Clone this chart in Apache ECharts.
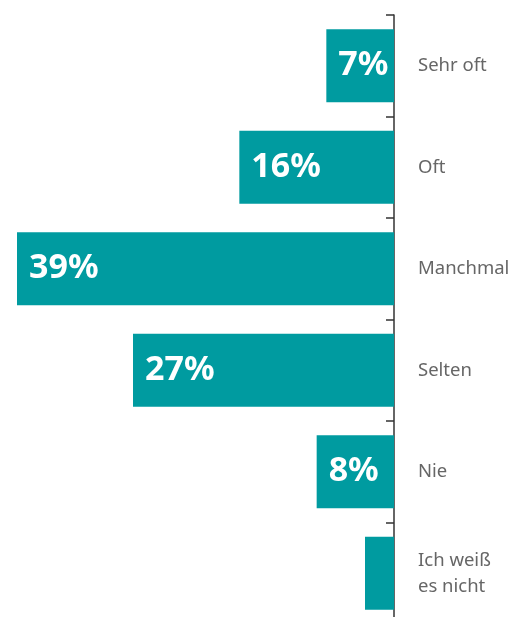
<!DOCTYPE html>
<html><head><meta charset="utf-8">
<script src="https://cdn.jsdelivr.net/npm/echarts@6/dist/echarts.min.js"></script>
<style>html,body{margin:0;padding:0;background:#fff}#c{width:522px;height:617px}</style>
</head><body><div id="c"></div>
<script>
const categories = ['Sehr oft', 'Oft', 'Manchmal', 'Selten', 'Nie', 'Ich weiß\nes nicht'];
const values = [7, 16, 39, 27, 8, 3];
const valueLabels = ['7%', '16%', '39%', '27%', '8%', ''];

const chart = echarts.init(document.getElementById('c'));
chart.setOption({
  animation: false,
  grid: { left: 17, right: 128, top: 15, height: 609, containLabel: false, outerBoundsMode: 'none' },
  xAxis: {
    type: 'value', min: 0, max: 39, inverse: true, show: false
  },
  yAxis: {
    type: 'category', data: categories, inverse: true, position: 'right',
    axisLine: { show: true, lineStyle: { color: '#333', width: 1.5 } },
    axisTick: { show: true, inside: true, length: 8, lineStyle: { color: '#333', width: 1.5 } },
    axisLabel: { color: '#666', fontSize: 18.5, fontFamily: 'Noto Sans', margin: 24, align: 'left', lineHeight: 26 }
  },
  series: [{
    type: 'bar', data: values, barWidth: 73,
    itemStyle: { color: '#009ba0' },
    label: {
      show: true, position: 'insideLeft', distance: 12,
      formatter: p => valueLabels[p.dataIndex],
      color: '#fff', fontSize: 34, fontWeight: 'bold', fontFamily: 'Noto Sans'
    }
  }]
});
</script></body></html>
